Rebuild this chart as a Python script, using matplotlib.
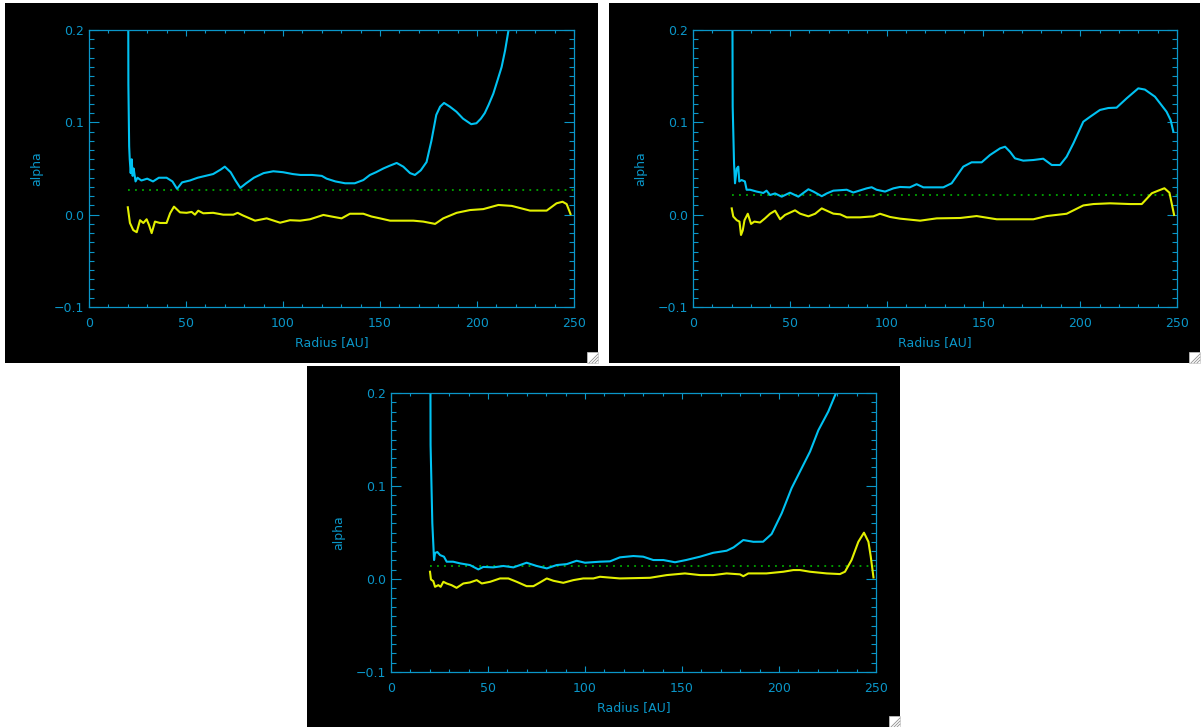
import matplotlib
matplotlib.use('Agg')
import matplotlib.pyplot as plt
from matplotlib.patches import Rectangle
from matplotlib.ticker import MultipleLocator, FuncFormatter

# panel 1 (top left)
r1_cyan = [20, 20.3, 20.7, 21.0, 21.5, 22.0, 22.5, 23.0, 24.0, 25.0,
           27, 30, 33, 36, 40, 43, 45.4, 48, 52, 56,
           60, 64, 68, 70, 73, 75.5, 78, 81, 85, 90,
           95, 100, 105, 109, 115, 120, 122.5, 127, 132, 137,
           141.4, 144.8, 148, 151.7, 155, 158.6, 162, 165.5, 168, 171,
           174, 176.5, 179, 181, 183, 186, 189.4, 192.8, 197, 199.7,
           202, 204, 206, 208.4, 210.5, 212.7, 214.5, 216.1, 220]
a1_cyan = [0.5, 0.141, 0.074, 0.06, 0.045, 0.06, 0.042, 0.05, 0.036, 0.040,
           0.037, 0.039, 0.036, 0.040, 0.040, 0.036, 0.028, 0.035, 0.037, 0.040,
           0.042, 0.044, 0.049, 0.052, 0.046, 0.037, 0.029, 0.034, 0.040, 0.045,
           0.047, 0.046, 0.044, 0.043, 0.043, 0.042, 0.039, 0.036, 0.034, 0.034,
           0.0375, 0.043, 0.046, 0.050, 0.053, 0.056, 0.052, 0.045, 0.043, 0.048,
           0.057, 0.080, 0.108, 0.117, 0.121, 0.117, 0.1115, 0.104, 0.098, 0.099,
           0.104, 0.110, 0.119, 0.131, 0.145, 0.160, 0.178, 0.198, 0.24]
r1_yel = [20, 21.1, 22.8, 24.6, 26.3, 28, 29.7, 30.9, 32.3, 34,
          36.6, 40, 41.8, 43.8, 46.9, 50.3, 52.9, 54.6, 56.3, 58.9,
          64, 69.2, 74.4, 76.6, 79.5, 85.6, 91.6, 98.5, 103.6, 108.8,
          113.9, 120.8, 125, 130.2, 134.5, 141.4, 145.6, 150, 155.2, 167.2,
          172.3, 178.4, 182.6, 189.5, 196.4, 203.2, 211, 217.9, 227.3, 235.9,
          241, 244.1, 246.2, 248.2]
a1_yel = [0.008, -0.009, -0.0167, -0.019, -0.006, -0.009, -0.005, -0.011, -0.020, -0.0075,
          -0.009, -0.009, 0.0015, 0.0087, 0.0025, 0.002, 0.003, 0.0, 0.0043, 0.0015,
          0.002, 0.0, 0.0, 0.002, -0.001, -0.0065, -0.004, -0.0087, -0.006, -0.0065,
          -0.005, -0.0003, -0.002, -0.004, 0.001, 0.001, -0.002, -0.004, -0.0065, -0.0065,
          -0.0075, -0.01, -0.004, 0.002, 0.005, 0.006, 0.0105, 0.0095, 0.0044, 0.0044,
          0.0123, 0.014, 0.0115, 0.0007]
level1 = 0.0264

# panel 2 (top right)
r2_cyan = [20, 20.5, 21.2, 21.7, 22.6, 23.4, 23.9, 25.1, 26.8, 27.7,
           29.5, 32.9, 36.3, 38, 39.8, 42.4, 45.8, 50.1, 54.4, 59.6,
           62.2, 66.5, 69.1, 72.5, 79.4, 82.8, 89.7, 92.3, 94.8, 99.2,
           103.5, 106.9, 112, 115.5, 119, 129.3, 133.6, 139.6, 143.9, 149.1,
           153.4, 158.6, 161.2, 163.8, 166.3, 170.6, 175.8, 180.9, 185.3, 189.6,
           193, 196.5, 201.6, 205.1, 210.2, 214.5, 218.8, 224, 230, 233.4,
           238.6, 244.6, 246.7, 248.1]
a2_cyan = [0.5, 0.117, 0.0556, 0.034, 0.05, 0.052, 0.036, 0.0375, 0.036, 0.027,
           0.027, 0.025, 0.0235, 0.026, 0.0213, 0.023, 0.0195, 0.0238, 0.0195, 0.0275,
           0.025, 0.020, 0.023, 0.026, 0.027, 0.024, 0.0285, 0.0297, 0.027, 0.025,
           0.0285, 0.030, 0.0296, 0.033, 0.0296, 0.0296, 0.034, 0.052, 0.0567, 0.0567,
           0.0646, 0.0718, 0.0736, 0.068, 0.061, 0.0585, 0.0592, 0.0606, 0.0538, 0.0538,
           0.0628, 0.0773, 0.1007, 0.106, 0.1134, 0.1155, 0.1159, 0.126, 0.1368, 0.1355,
           0.1278, 0.1115, 0.1025, 0.090]
r2_yel = [20, 20.8, 22.6, 24, 24.8, 25.7, 26.6, 28.3, 30, 31.7,
          34.6, 37.2, 39.8, 42.4, 45, 47.5, 52.7, 55.3, 59.6, 63.1,
          66.5, 69.1, 72.5, 76, 79.4, 86.3, 93.2, 96.6, 101.8, 106.9,
          117.3, 125.9, 138, 146.5, 156.9, 175.8, 182.7, 193, 201.6, 206.8,
          215.4, 225.7, 231.8, 237, 240.4, 243.5, 246.1, 248.5]
a2_yel = [0.0068, -0.002, -0.006, -0.0075, -0.022, -0.017, -0.006, 0.001, -0.010, -0.0075,
          -0.0085, -0.004, 0.001, 0.0043, -0.005, -0.0003, 0.0047, 0.0011, -0.0018, 0.001,
          0.0068, 0.0043, 0.0011, 0.0004, -0.0029, -0.0029, -0.0018, 0.001, -0.0025, -0.0043,
          -0.0065, -0.004, -0.0036, -0.0015, -0.005, -0.005, -0.0015, 0.001, 0.010, 0.0115,
          0.0123, 0.0115, 0.0115, 0.0232, 0.0261, 0.0286, 0.0238, -0.0003]
level2 = 0.021

# panel 3 (bottom)
r3_cyan = [20, 20.4, 21.3, 22.2, 22.7, 23.9, 25.3, 27.3, 28.7, 32,
           35.6, 40.7, 45, 47.6, 52.7, 57.9, 63.1, 69.9, 75.1, 80.3,
           85.4, 90.6, 95.7, 100, 107.7, 112.9, 118, 124.9, 130, 135.2,
           140.4, 146.4, 152.1, 159.3, 166.1, 173, 176.6, 181.6, 186.8, 191.8,
           196.2, 201.4, 206.5, 210.8, 216, 220.3, 225.4, 229.4, 235]
a3_cyan = [0.5, 0.144, 0.06, 0.0204, 0.028, 0.029, 0.0257, 0.024, 0.0186, 0.0186,
           0.0168, 0.015, 0.0103, 0.013, 0.0125, 0.014, 0.0125, 0.0175, 0.014, 0.0114,
           0.015, 0.016, 0.0196, 0.0175, 0.0186, 0.019, 0.0233, 0.0247, 0.024, 0.0204,
           0.0204, 0.018, 0.0204, 0.024, 0.0282, 0.0304, 0.034, 0.0419, 0.040, 0.0401,
           0.0484, 0.0707, 0.0977, 0.1155, 0.137, 0.160, 0.180, 0.2, 0.24]
r3_yel = [20.1, 20.6, 21.8, 22.7, 24.4, 25.6, 27, 28.7, 31.2, 33.8,
          37.3, 40.7, 44.2, 46.8, 51.1, 56.2, 60.5, 64.8, 69.9, 73.4,
          76.8, 80.3, 83.7, 88.8, 94, 99.1, 104.3, 107.7, 118, 133.5,
          142.1, 151.5, 159.3, 166.1, 173, 179.9, 181.6, 184.2, 193.5, 202.2,
          207.4, 210.8, 216, 224.6, 231.4, 234, 237.4, 240.9, 243.8, 246.1,
          247.3, 248.7]
a3_yel = [0.0078, -0.0005, -0.0023, -0.0084, -0.0066, -0.0084, -0.003, -0.0048, -0.0066, -0.0095,
          -0.0048, -0.0037, -0.0012, -0.0048, -0.003, 0.0006, 0.0006, -0.003, -0.0077, -0.0077,
          -0.0037, 0.0006, -0.0019, -0.0041, -0.0012, 0.0006, 0.0006, 0.0024, 0.0006, 0.0013,
          0.0042, 0.006, 0.0042, 0.0042, 0.006, 0.005, 0.003, 0.006, 0.006, 0.0078,
          0.0096, 0.0096, 0.0078, 0.006, 0.0053, 0.0078, 0.0204, 0.040, 0.0498, 0.040,
          0.024, 0.0017]
level3 = 0.0143

level_range = [20, 250]

axcol = '#0a96c8'
cyan = '#00c2f2'
yellow = '#e2f000'
green = '#00a800'

W, H = 1202, 727
fig = plt.figure(figsize=(W / 100, H / 100), dpi=100, facecolor='white')


def box(x0, y0, x1, y1):
    # pixel box (top-left origin) -> figure fraction rect
    return [x0 / W, 1 - y1 / H, (x1 - x0) / W, (y1 - y0) / H]


def minus_fmt(v, pos):
    s = '%.1f' % v
    if v < -1e-9:
        s = '\u2212' + s[1:]
    elif s == '-0.0':
        s = '0.0'
    return s


def panel(frame, axbox, rc, ac, ry, ay, level):
    l, b, w, h = box(*frame)
    fig.add_artist(Rectangle((l, b), w, h, transform=fig.transFigure,
                             facecolor='black', edgecolor='none', zorder=0))
    # little resize grip in the corner
    gl, gb, gw, gh = box(frame[2] - 11, frame[3] - 11, frame[2], frame[3])
    fig.add_artist(Rectangle((gl, gb), gw, gh, transform=fig.transFigure,
                             facecolor='white', edgecolor='#c8c8c8', lw=0.5, zorder=1))
    for k in (3, 6, 9):
        fig.add_artist(plt.Line2D([gl + gw * (1 - k / 11), gl + gw], [gb, gb + gh * k / 11],
                                  transform=fig.transFigure, color='#909090', lw=0.6, zorder=2))

    ax = fig.add_axes(box(*axbox))
    ax.set_facecolor('black')
    ax.plot(level_range, [level, level], color=green, lw=1.3, linestyle=(0, (1, 2.9)))
    ax.plot(rc, ac, color=cyan, lw=1.5)
    ax.plot(ry, ay, color=yellow, lw=1.5)
    ax.set_xlim(0, 250)
    ax.set_ylim(-0.1, 0.2)
    ax.xaxis.set_major_locator(MultipleLocator(50))
    ax.xaxis.set_minor_locator(MultipleLocator(10))
    ax.yaxis.set_major_locator(MultipleLocator(0.1))
    ax.yaxis.set_minor_locator(MultipleLocator(0.01))
    ax.yaxis.set_major_formatter(FuncFormatter(minus_fmt))
    for s in ax.spines.values():
        s.set_color(axcol)
        s.set_linewidth(0.9)
    ax.tick_params(which='both', direction='in', top=True, right=True,
                   color=axcol, labelcolor=axcol, labelsize=9, width=0.8)
    ax.tick_params(axis='x', which='major', length=4.2, pad=7)
    ax.tick_params(axis='x', which='minor', length=2.2)
    ax.tick_params(axis='y', which='major', length=7.2, pad=3.5)
    ax.tick_params(axis='y', which='minor', length=3.8)

    x0, y0, x1, y1 = axbox
    fig.text(((x0 + x1) / 2) / W, 1 - (y1 + 36) / H, 'Radius [AU]',
             color=axcol, fontsize=9, ha='center', va='center')
    fig.text((x0 - 52) / W, 1 - ((y0 + y1) / 2) / H, 'alpha',
             color=axcol, fontsize=9, ha='center', va='center', rotation=90)
    return ax


panel((5, 3, 598, 363), (89, 30, 574, 307), r1_cyan, a1_cyan, r1_yel, a1_yel, level1)
panel((609, 3, 1200, 363), (693, 30, 1177, 307), r2_cyan, a2_cyan, r2_yel, a2_yel, level2)
panel((307, 366, 900, 727), (391, 393, 876, 672), r3_cyan, a3_cyan, r3_yel, a3_yel, level3)

plt.savefig('out.png', dpi=100, facecolor='white')
